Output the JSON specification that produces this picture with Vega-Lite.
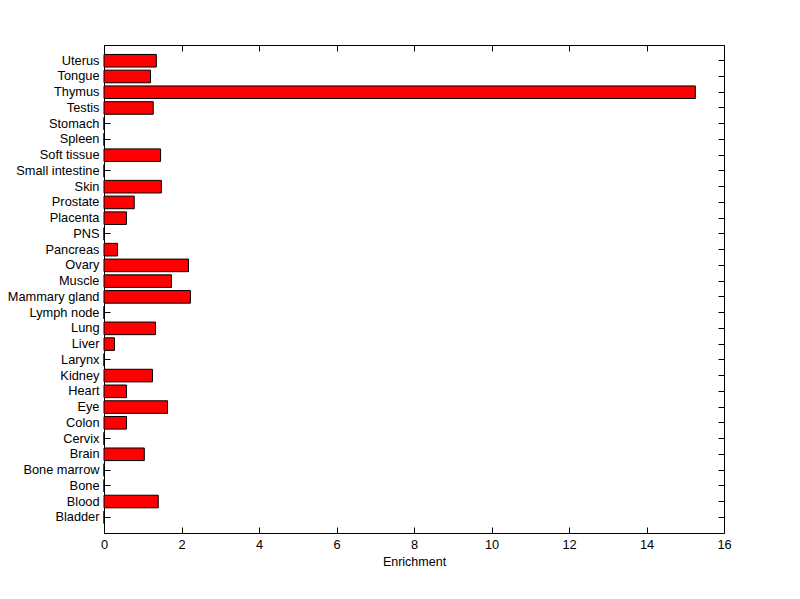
{
  "$schema": "https://vega.github.io/schema/vega-lite/v6.json",
  "width": 620,
  "height": 488,
  "autosize": "none",
  "padding": {"left": 104, "top": 45, "right": 76, "bottom": 66},
  "background": "white",
  "config": {
    "view": {"stroke": "black", "strokeWidth": 1},
    "axis": {
      "domain": false,
      "grid": false,
      "labelFont": "Liberation Sans",
      "labelFontSize": 12.8,
      "labelColor": "black",
      "tickColor": "black",
      "titleFont": "Liberation Sans",
      "titleFontSize": 12.5,
      "titleFontWeight": "normal",
      "titleColor": "black"
    }
  },
  "data": {
    "values": [
      {"tissue": "Uterus", "enrichment": 1.35},
      {"tissue": "Tongue", "enrichment": 1.2},
      {"tissue": "Thymus", "enrichment": 15.26},
      {"tissue": "Testis", "enrichment": 1.27},
      {"tissue": "Stomach", "enrichment": 0},
      {"tissue": "Spleen", "enrichment": 0},
      {"tissue": "Soft tissue", "enrichment": 1.46},
      {"tissue": "Small intestine", "enrichment": 0},
      {"tissue": "Skin", "enrichment": 1.48},
      {"tissue": "Prostate", "enrichment": 0.78},
      {"tissue": "Placenta", "enrichment": 0.58},
      {"tissue": "PNS", "enrichment": 0},
      {"tissue": "Pancreas", "enrichment": 0.35},
      {"tissue": "Ovary", "enrichment": 2.18},
      {"tissue": "Muscle", "enrichment": 1.74},
      {"tissue": "Mammary gland", "enrichment": 2.23},
      {"tissue": "Lymph node", "enrichment": 0},
      {"tissue": "Lung", "enrichment": 1.33},
      {"tissue": "Liver", "enrichment": 0.27},
      {"tissue": "Larynx", "enrichment": 0},
      {"tissue": "Kidney", "enrichment": 1.25},
      {"tissue": "Heart", "enrichment": 0.58},
      {"tissue": "Eye", "enrichment": 1.64},
      {"tissue": "Colon", "enrichment": 0.58},
      {"tissue": "Cervix", "enrichment": 0},
      {"tissue": "Brain", "enrichment": 1.04},
      {"tissue": "Bone marrow", "enrichment": 0},
      {"tissue": "Bone", "enrichment": 0},
      {"tissue": "Blood", "enrichment": 1.4},
      {"tissue": "Bladder", "enrichment": 0}
    ]
  },
  "layer": [
    {
      "mark": {"type": "bar", "fill": "#ff0000", "stroke": "black", "strokeWidth": 1},
      "encoding": {
        "y": {
          "field": "tissue", "type": "nominal", "sort": null,
          "scale": {"paddingInner": 0.2, "paddingOuter": 0.6},
          "axis": {"orient": "left", "title": null, "tickSize": -6, "labelPadding": 11}
        },
        "x": {
          "field": "enrichment", "type": "quantitative",
          "scale": {"domain": [0, 16], "nice": false},
          "axis": {"orient": "bottom", "title": "Enrichment", "values": [0, 2, 4, 6, 8, 10, 12, 14, 16], "tickSize": -6, "labelPadding": 11, "labelFlush": false, "titlePadding": 5}
        }
      }
    },
    {
      "mark": {"type": "bar", "opacity": 0},
      "encoding": {
        "y": {
          "field": "tissue", "type": "nominal", "sort": null,
          "scale": {"paddingInner": 0.2, "paddingOuter": 0.6},
          "axis": {"orient": "right", "title": null, "labels": false, "tickSize": -6}
        },
        "x": {
          "field": "enrichment", "type": "quantitative",
          "scale": {"domain": [0, 16], "nice": false},
          "axis": {"orient": "top", "title": null, "labels": false, "values": [0, 2, 4, 6, 8, 10, 12, 14, 16], "tickSize": -6}
        }
      }
    }
  ],
  "resolve": {"axis": {"x": "independent", "y": "independent"}}
}
